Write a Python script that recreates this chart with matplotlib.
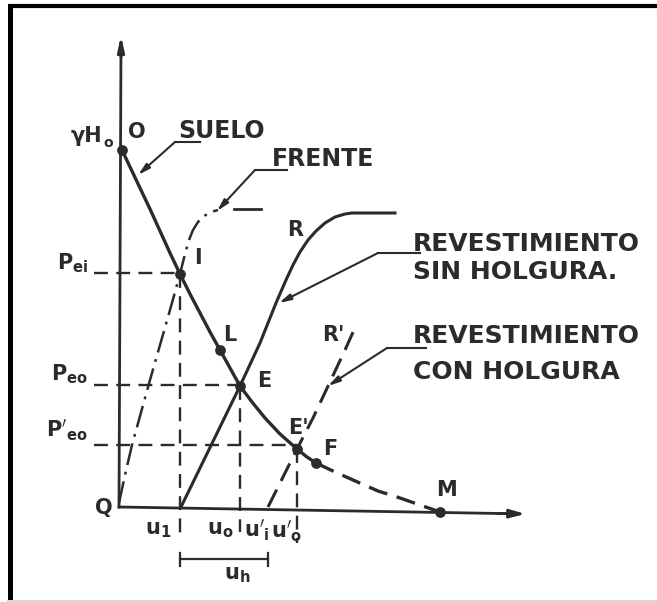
import numpy as np
import matplotlib
matplotlib.use("Agg")
import matplotlib.pyplot as plt

plt.rcParams['lines.scale_dashes'] = False
plt.rcParams['mathtext.fontset'] = 'dejavusans'

INK = '#2b2b2b'

# diagram coordinates (image pixels, y down)
origin = (119, 507)
x_axis_end = (528, 514)
y_axis_top = (121, 33)

# soil curve (solid O -> F, dashed F -> M)
soil_x = [122, 131, 140, 150, 160, 170, 180, 190, 200, 210, 220, 230, 240, 252, 265, 280, 297, 307, 316]
soil_y = [150, 169, 188, 209, 231, 253, 274, 294, 313, 332, 350, 368, 386, 402, 418, 434, 449, 457, 463]
soil_tail_x = [316, 335, 353, 378, 400, 420, 440]
soil_tail_y = [463, 472, 480, 491, 498, 505, 512]

# face ("frente") curve, dash-dot
face_x = [119, 125, 132, 150, 170, 180, 185, 189, 193, 198, 204, 211, 218]
face_y = [503, 475, 445, 380, 310, 274, 254, 240, 230, 222, 216, 212, 210]
face_tail_x = [234, 261]
face_tail_y = [209, 209]

# lining without gap (R)
lin_x = [181, 240, 260, 276, 286, 293, 300, 308, 316, 325, 335, 345, 352, 395]
lin_y = [507, 386, 343, 303, 280, 265, 252, 240, 231, 223, 217, 214, 213, 213]

# lining with gap (R'), dashed
ling_x = [268, 297, 313, 329, 345, 354]
ling_y = [507, 449, 418, 384, 350, 330]

# named points
pt_x = [122, 180, 220, 240, 297, 316, 440]
pt_y = [150, 274, 350, 386, 449, 463, 512]

# pressure levels (dashed horizontals) and displacements (dashed verticals)
p_y = [273, 385, 445]
p_x_end = [180, 240, 297]
u_x = [180, 240, 297]
u_top = [274, 386, 449]
u_bot = [537, 532, 543]

fig = plt.figure(figsize=(6.57, 6.02), dpi=100)
ax = fig.add_axes([0, 0, 1, 1])
ax.set_xlim(0, 657)
ax.set_ylim(602, 0)
ax.axis('off')

# frame of the scan
ax.plot([9.5, 9.5], [5.5, 602], color='black', lw=3.6, solid_capstyle='butt')
ax.plot([8, 657], [5.5, 5.5], color='black', lw=3.0, solid_capstyle='butt')
ax.plot([8, 657], [600.5, 600.5], color='#d8d8d8', lw=1.5)

# axes
ax.plot([origin[0], y_axis_top[0]], [origin[1], y_axis_top[1] + 10], color=INK, lw=2.0)
ax.annotate('', xy=y_axis_top, xytext=(121, 60),
            arrowprops=dict(arrowstyle='-|>,head_length=0.9,head_width=0.2', color=INK, lw=2.0))
ax.plot([origin[0], x_axis_end[0] - 10], [origin[1], x_axis_end[1] - 0.2], color=INK, lw=2.0)
ax.annotate('', xy=x_axis_end, xytext=(495, 513.4),
            arrowprops=dict(arrowstyle='-|>,head_length=0.9,head_width=0.25', color=INK, lw=2.0))

# helper lines
for y, xe in zip(p_y, p_x_end):
    ax.plot([94, xe], [y, y], color=INK, lw=1.7, linestyle=(0, (10, 6)))
for x, yt, yb in zip(u_x, u_top, u_bot):
    ax.plot([x, x], [yt, yb], color=INK, lw=1.7, linestyle=(0, (10, 6)))

# curves
ax.plot(soil_x, soil_y, color=INK, lw=2.4, solid_joinstyle='round')
ax.plot(soil_tail_x, soil_tail_y, color=INK, lw=2.4, linestyle=(0, (14, 7)))
ax.plot(face_x, face_y, color=INK, lw=1.8, linestyle=(0, (16, 5, 2, 5)))
ax.plot(face_tail_x, face_tail_y, color=INK, lw=2.0)
ax.plot(lin_x, lin_y, color=INK, lw=2.2, solid_joinstyle='round')
ax.plot(ling_x, ling_y, color=INK, lw=2.2, linestyle=(0, (14, 7)))

ax.scatter(pt_x, pt_y, s=45, color=INK, zorder=5)

# leaders
def leader(tip, elbow, end):
    ax.plot([elbow[0], end[0]], [elbow[1], end[1]], color=INK, lw=1.5)
    ax.annotate('', xy=tip, xytext=elbow,
                arrowprops=dict(arrowstyle='-|>,head_length=0.7,head_width=0.18',
                                color=INK, lw=1.5, shrinkA=0, shrinkB=0))

leader((138, 175), (175, 142), (200, 142))
leader((217, 211), (255, 170), (287, 170))
leader((279, 303), (378, 253), (420, 253))
leader((328, 386), (387, 348), (426, 348))

# u_h bracket
ax.plot([180, 268], [559, 559], color=INK, lw=1.6)
ax.plot([180, 180], [553, 566], color=INK, lw=1.6)
ax.plot([268, 268], [553, 566], color=INK, lw=1.6)

# texts
tk = dict(color=INK, fontweight='bold', fontfamily='DejaVu Sans')
ax.text(222, 131, 'SUELO', fontsize=17, ha='center', va='center', **tk)
ax.text(323, 159, 'FRENTE', fontsize=17, ha='center', va='center', **tk)
ax.text(413, 244, 'REVESTIMIENTO', fontsize=18, ha='left', va='center', **tk)
ax.text(413, 272, 'SIN HOLGURA.', fontsize=18, ha='left', va='center', **tk)
ax.text(413, 336, 'REVESTIMIENTO', fontsize=18, ha='left', va='center', **tk)
ax.text(413, 372, 'CON HOLGURA', fontsize=18, ha='left', va='center', **tk)

lab_txt = ['O', 'I', 'L', 'E', "E'", 'F', 'M', 'R', "R'", 'Q']
lab_x = [137, 198, 230, 264, 298, 330, 447, 295, 333, 104]
lab_y = [132, 258, 335, 381, 428, 449, 490, 230, 335, 508]
for t, x, y in zip(lab_txt, lab_x, lab_y):
    ax.text(x, y, t, fontsize=15, ha='center', va='center', **tk)

ax.text(102, 136, 'γH', fontsize=15, ha='right', va='center', **tk)
ax.text(103, 143, 'o', fontsize=10, ha='left', va='center', **tk)

p_lab = [r'$\mathbf{P_{ei}}$', r'$\mathbf{P_{eo}}$', r"$\mathbf{P'_{eo}}$"]
p_lab_y = [263, 374, 430]
for t, y in zip(p_lab, p_lab_y):
    ax.text(88, y, t, fontsize=15, ha='right', va='center', color=INK)

u_lab = [r'$\mathbf{u_1}$', r'$\mathbf{u_o}$', r"$\mathbf{u'_i}$", r"$\mathbf{u'_o}$", r'$\mathbf{u_h}$']
u_lab_x = [158, 220, 257, 287, 237]
u_lab_y = [530, 530, 530, 531, 575]
for t, x, y in zip(u_lab, u_lab_x, u_lab_y):
    ax.text(x, y, t, fontsize=15, ha='center', va='center', color=INK)

fig.savefig('out.png', dpi=100, facecolor='white')
